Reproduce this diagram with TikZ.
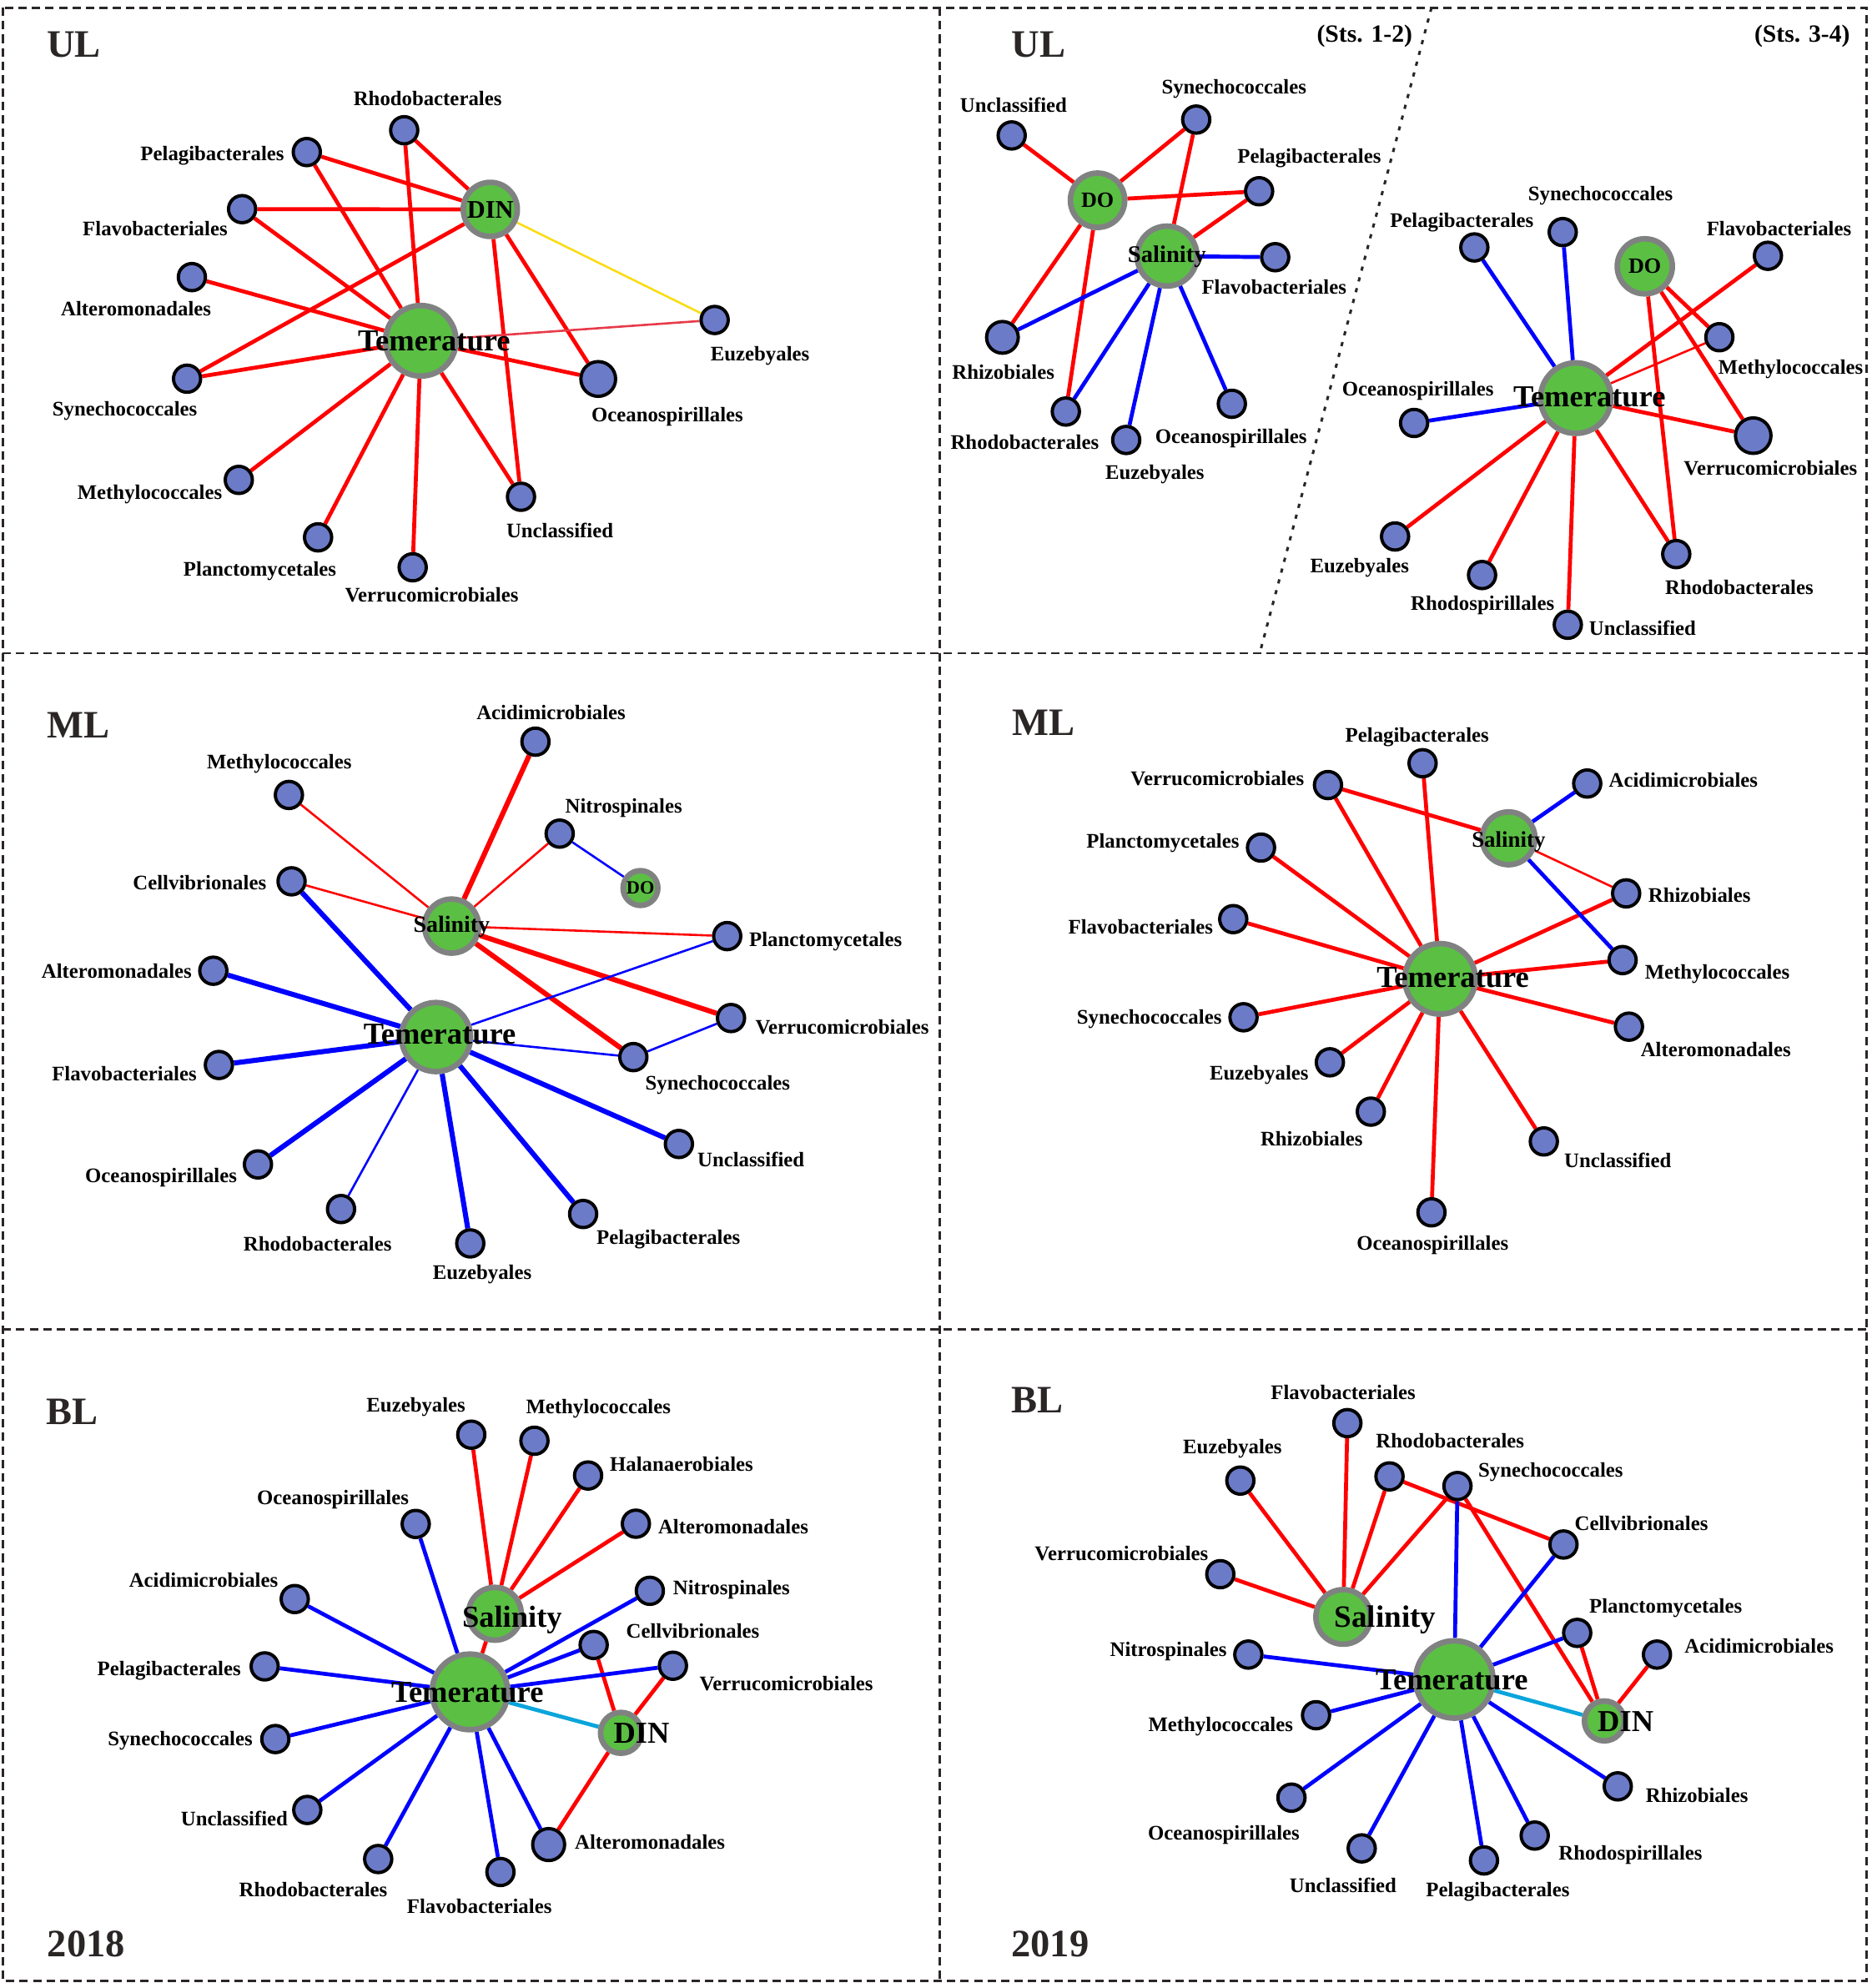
\documentclass[tikz,border=0pt]{standalone}
\usepackage{fontspec}
\setmainfont{Liberation Serif}
\usetikzlibrary{backgrounds}

\definecolor{taxfill}{RGB}{108,123,200}
\definecolor{envfill}{RGB}{91,191,68}
\definecolor{envring}{RGB}{128,130,130}
\definecolor{inkdark}{RGB}{43,38,38}
\definecolor{posred}{RGB}{255,0,0}
\definecolor{negblue}{RGB}{0,0,255}
\definecolor{dincyan}{RGB}{10,165,220}
\definecolor{weakyellow}{RGB}{250,220,20}
\definecolor{weakred}{RGB}{232,58,72}

\tikzset{
  taxon/.style={circle, draw=black, fill=taxfill, line width=2.6pt, minimum size=21.4pt, inner sep=0pt},
  envnode/.style={circle, draw=envring, fill=envfill, line width=4.4pt, minimum size=#1, inner sep=0pt},
  tlabel/.style={font=\bfseries\fontsize{16.3}{18}\selectfont, inner sep=0pt, text height=10.8pt, text depth=0pt},
  envtext/.style={font=\bfseries\fontsize{#1}{#1}\selectfont, inner sep=0pt, text height={0.66*#1pt}, text depth=0pt},
  paneltitle/.style={font=\bfseries\fontsize{30.6}{31}\selectfont, text=inkdark, inner sep=0pt, text height=20.2pt, text depth=0pt},
  posedge/.style={draw=posred, line width=3.1pt},
  negedge/.style={draw=negblue, line width=3.1pt},
  weak/.style={line width=1.7pt},
  heavyedge/.style={line width=4pt},
  panelframe/.style={draw=inkdark, line width=1.75pt, dash pattern=on 6.6pt off 4pt},
}

\begin{document}
\begin{tikzpicture}[x=1pt, y=-1pt]
  \useasboundingbox (0,0) rectangle (1476,1567.5);

  % frame
  \draw[panelframe] (2.2,6.1) rectangle (1471.8,1561.7);
  \draw[panelframe] (741,6.1) -- (741,1561.7);
  \draw[panelframe] (2.2,515) -- (1471.8,515);
  \draw[panelframe] (2.2,1048) -- (1471.8,1048);
  \draw[draw=inkdark, line width=2pt, dash pattern=on 3.3pt off 5.5pt] (1128.7,6.1) -- (993.3,515);

  % titles
  \node[paneltitle] (ttlA) at (58.1,35.1) {UL};
  \node[paneltitle] (ttlB) at (819,35) {UL};
  \node[paneltitle] (ttlC) at (62,572) {ML};
  \node[paneltitle] (ttlD) at (823,570) {ML};
  \node[paneltitle] (ttlE) at (57,1113) {BL};
  \node[paneltitle] (ttlF) at (818,1104) {BL};
  \node[paneltitle] (yrA) at (68,1533) {2018};
  \node[paneltitle] (yrB) at (828,1533) {2019};
  \node[envtext=19.5] (stsA) at (1076,27) {(Sts. 1-2)};
  \node[envtext=19.5] (stsB) at (1421,27) {(Sts. 3-4)};

  % UL 2018
  \node[envnode=55.6pt] (aTem) at (331.8,268.7) {};
  \node[envnode=42.6pt] (aDIN) at (386.6,165.1) {};
  \node[envtext=24] (aTem-t) at (342.3,268.7) {Temerature};
  \node[envtext=20] (aDIN-t) at (386.6,165.1) {DIN};
  \foreach \nm/\x/\y/\lx/\ly/\txt in {
    aRhodo/318.7/102.7/337.2/77.5/Rhodobacterales,
    aPelagi/241.9/119.9/167.4/120.9/Pelagibacterales,
    aFlavo/190.9/164.9/122.3/180.2/Flavobacteriales,
    aAltero/151.3/218.5/107.3/243.4/Alteromonadales,
    aSynecho/147.5/298.6/98.4/322.8/Synechococcales,
    aMethylo/188.3/378.4/118.1/388.3/Methylococcales,
    aPlancto/250.8/423.7/204.9/448.6/Planctomycetales,
    aVerruco/325.4/447.3/340.4/469.5/Verrucomicrobiales,
    aUnclass/410.8/391.7/441.4/418.7/Unclassified,
    aEuzeb/563.5/252.3/599.3/279/Euzebyales}
  {
    \node[taxon] (\nm) at (\x,\y) {};
    \node[tlabel] (\nm-l) at (\lx,\ly) {\txt};
  }
  \node[taxon, minimum size=27.4pt] (aOceano) at (471.7,298.8) {};
  \node[tlabel] (aOceano-l) at (526.2,327.2) {Oceanospirillales};

  % UL 2019
  \node[envnode=42.8pt] (bDO) at (865.4,157.9) {};
  \node[envnode=47.2pt] (bSal) at (920.2,201.9) {};
  \node[envtext=17.2] (bDO-t) at (865.4,157.9) {DO};
  \node[envtext=18.8] (bSal-t) at (920.1,200.6) {Salinity};
  \node[envnode=55.6pt] (brTem) at (1242.5,313.9) {};
  \node[envnode=43.4pt] (brDO) at (1296.9,210) {};
  \node[envtext=24] (brTem-t) at (1253.2,313) {Temerature};
  \node[envtext=17.2] (brDO-t) at (1296.9,210) {DO};
  \foreach \nm/\x/\y/\lx/\ly/\txt in {
    bUnclass/797.7/106.8/799.2/82.9/Unclassified,
    bSynecho/943.2/94.3/973/68.6/Synechococcales,
    bPelagi/992.8/150.8/1032.3/123.4/Pelagibacterales,
    bFlavo/1005.5/202.8/1004.6/226.3/Flavobacteriales,
    bRhodob/840.4/324.5/808/349.1/Rhodobacterales,
    bEuzeb/888/346.9/910.6/372.7/Euzebyales,
    bOceano/971.3/318.4/970.7/344.2/Oceanospirillales,
    brPelagi/1162.5/195.1/1152.6/173.6/Pelagibacterales,
    brSynecho/1232.2/183/1262/153/Synechococcales,
    brFlavo/1394/201.7/1402.7/180.2/Flavobacteriales,
    brMethylo/1355.7/265.9/1412/289.4/Methylococcales,
    brOceano/1115/333.5/1118/307/Oceanospirillales,
    brEuzeb/1100/423/1072/446/Euzebyales,
    brRhodosp/1168.6/453.4/1169/475.7/Rhodospirillales,
    brRhodob/1321.7/436.9/1371.4/463/Rhodobacterales,
    brUnclass/1236.2/492.6/1295.1/495.5/Unclassified}
  {
    \node[taxon] (\nm) at (\x,\y) {};
    \node[tlabel] (\nm-l) at (\lx,\ly) {\txt};
  }
  \node[taxon, minimum size=25pt] (bRhizo) at (790.4,266) {};
  \node[tlabel] (bRhizo-l) at (791.1,293.8) {Rhizobiales};
  \node[taxon, minimum size=28pt] (brVerruco) at (1382.4,343.5) {};
  \node[tlabel] (brVerruco-l) at (1396,369.4) {Verrucomicrobiales};

  % ML 2018
  \node[envnode=42.6pt] (cSal) at (356.1,730.2) {};
  \node[envnode=54.4pt] (cTem) at (343.8,817.7) {};
  \node[envnode=27.4pt] (cDO) at (505,700.2) {};
  \node[envtext=18.4] (cSal-t) at (356.1,728.7) {Salinity};
  \node[envtext=24] (cTem-t) at (346.7,815.3) {Temerature};
  \node[envtext=14.7] (cDO-t) at (505,700.2) {DO};
  \foreach \nm/\x/\y/\lx/\ly/\txt in {
    cAcidim/422.2/584.8/434.5/562.2/Acidimicrobiales,
    cMethylo/227.8/626.8/220.2/601/Methylococcales,
    cNitro/441.3/657.3/491.8/635.3/Nitrospinales,
    cCellv/229.9/694.9/157.4/696.4/Cellvibrionales,
    cPlancto/573.4/738.1/651/741/Planctomycetales,
    cAltero/168.2/765.4/92/766/Alteromonadales,
    cVerruco/576.4/802.7/664/810/Verrucomicrobiales,
    cSynecho/499.4/833.5/565.9/854.1/Synechococcales,
    cFlavo/172.6/839.7/98/847/Flavobacteriales,
    cUnclass/535.3/902/592.1/914.6/Unclassified,
    cOceano/203.4/918.1/127/927/Oceanospirillales,
    cRhodob/268.9/953.3/250.4/981.2/Rhodobacterales,
    cPelagi/459.8/957.2/527/976/Pelagibacterales,
    cEuzeb/370.8/980.4/380.2/1003.3/Euzebyales}
  {
    \node[taxon] (\nm) at (\x,\y) {};
    \node[tlabel] (\nm-l) at (\lx,\ly) {\txt};
  }

  % ML 2019
  \node[envnode=41.6pt] (dSal) at (1189.5,661) {};
  \node[envnode=55.6pt] (dTem) at (1135.5,771.8) {};
  \node[envtext=17.7] (dSal-t) at (1189.5,662) {Salinity};
  \node[envtext=24] (dTem-t) at (1145.6,770.7) {Temerature};
  \foreach \nm/\x/\y/\lx/\ly/\txt in {
    dPelagi/1121.7/601.8/1117.4/580/Pelagibacterales,
    dVerruco/1047.1/619/959.9/614/Verrucomicrobiales,
    dAcidim/1251.5/617.8/1327.3/615/Acidimicrobiales,
    dPlancto/994.3/668.3/916.9/663.3/Planctomycetales,
    dRhizoA/1282.2/704.4/1340/706/Rhizobiales,
    dFlavo/972.4/724.7/899.4/731.2/Flavobacteriales,
    dMethylo/1279.4/757/1354/766.3/Methylococcales,
    dSynecho/980.5/802.1/906.2/802.1/Synechococcales,
    dAltero/1284.4/809.5/1352.9/827.7/Alteromonadales,
    dEuzeb/1048.6/837.6/992.8/846.4/Euzebyales,
    dRhizoB/1080.9/876.5/1034.2/897.9/Rhizobiales,
    dUnclass/1217.3/900/1275.6/915.4/Unclassified,
    dOceano/1128.7/955.9/1129.6/980/Oceanospirillales}
  {
    \node[taxon] (\nm) at (\x,\y) {};
    \node[tlabel] (\nm-l) at (\lx,\ly) {\txt};
  }

  % BL 2018
  \node[envnode=41.6pt] (eSal) at (390.2,1272.4) {};
  \node[envnode=59.6pt] (eTem) at (370.5,1334) {};
  \node[envnode=32.2pt] (eDIN) at (489.6,1366.3) {};
  \node[envtext=24] (eSal-t) at (403.8,1274.9) {Salinity};
  \node[envtext=24] (eTem-t) at (368.5,1334.5) {Temerature};
  \node[envtext=24] (eDIN-t) at (505.8,1366.8) {DIN};
  \foreach \nm/\x/\y/\lx/\ly/\txt in {
    eEuzeb/371.6/1131.2/328/1108/Euzebyales,
    eMethylo/421.4/1136/471.8/1109.5/Methylococcales,
    eHalan/463.7/1163.4/537.4/1154.8/Halanaerobiales,
    eOceano/327.8/1201.6/262.5/1181.2/Oceanospirillales,
    eAlteroA/501.4/1201.4/578.2/1203.7/Alteromonadales,
    eAcidim/232.4/1260.8/160.5/1246.2/Acidimicrobiales,
    eNitro/512.4/1254.3/576.8/1252.2/Nitrospinales,
    eCellv/468.1/1297/546.3/1286.2/Cellvibrionales,
    ePelagi/208.7/1313.9/133.3/1316/Pelagibacterales,
    eVerruco/530.6/1313.4/620/1327.8/Verrucomicrobiales,
    eSynecho/217.1/1371.2/142.1/1371.2/Synechococcales,
    eUnclass/242.3/1427.1/184.8/1434.1/Unclassified,
    eRhodob/298.2/1465.8/247/1490/Rhodobacterales,
    eFlavo/394.6/1476/378/1503/Flavobacteriales}
  {
    \node[taxon] (\nm) at (\x,\y) {};
    \node[tlabel] (\nm-l) at (\lx,\ly) {\txt};
  }
  \node[taxon, minimum size=25.2pt] (eAlteroB) at (432.6,1454.4) {};
  \node[tlabel] (eAlteroB-l) at (512.5,1452.3) {Alteromonadales};

  % BL 2019
  \node[envnode=43pt] (fSal) at (1059.1,1274.9) {};
  \node[envnode=61pt] (fTem) at (1146.7,1324.2) {};
  \node[envnode=31.4pt] (fDIN) at (1265,1356.9) {};
  \node[envtext=24.4] (fSal-t) at (1092.3,1274.9) {Salinity};
  \node[envtext=24] (fTem-t) at (1144.7,1324.7) {Temerature};
  \node[envtext=24] (fDIN-t) at (1281.8,1357.4) {DIN};
  \foreach \nm/\x/\y/\lx/\ly/\txt in {
    fFlavo/1062.4/1122.1/1059.1/1098.2/Flavobacteriales,
    fEuzeb/978/1167.4/971.8/1141/Euzebyales,
    fRhodob/1095.6/1164.1/1143.4/1136.4/Rhodobacterales,
    fSynecho/1149.2/1171.7/1222.7/1159.4/Synechococcales,
    fCellv/1232.8/1217.8/1294.2/1201.4/Cellvibrionales,
    fVerruco/962.2/1241.2/884.3/1224.8/Verrucomicrobiales,
    fPlancto/1243.6/1287.5/1313.4/1266.1/Planctomycetales,
    fAcidim/1306.5/1304.6/1387/1298/Acidimicrobiales,
    fNitro/984.3/1304.6/921.3/1300.8/Nitrospinales,
    fMethylo/1037.7/1352.4/962.5/1360/Methylococcales,
    fRhizo/1275.6/1408.5/1338/1416/Rhizobiales,
    fOceano/1018.3/1417.4/964.9/1445.5/Oceanospirillales,
    fRhodosp/1210.1/1447.3/1285.6/1461.2/Rhodospirillales,
    fUnclass/1073.7/1457.4/1059/1487/Unclassified,
    fPelagi/1170.1/1466.9/1181/1490/Pelagibacterales}
  {
    \node[taxon] (\nm) at (\x,\y) {};
    \node[tlabel] (\nm-l) at (\lx,\ly) {\txt};
  }

  % correlations, under the nodes
  \begin{scope}[on background layer]
    \foreach \u/\v in {aRhodo/aDIN, aRhodo/aTem, aPelagi/aDIN, aPelagi/aTem, aFlavo/aDIN, aFlavo/aTem,
      aAltero/aTem, aSynecho/aDIN, aSynecho/aTem, aMethylo/aTem, aPlancto/aTem, aVerruco/aTem,
      aUnclass/aTem, aUnclass/aDIN, aOceano/aTem, aOceano/aDIN,
      bUnclass/bDO, bSynecho/bDO, bSynecho/bSal, bPelagi/bDO, bPelagi/bSal, bRhizo/bDO, bRhodob/bDO,
      brFlavo/brTem, brVerruco/brTem, brEuzeb/brTem, brRhodosp/brTem, brRhodob/brTem, brUnclass/brTem,
      brDO/brMethylo, brDO/brVerruco, brDO/brRhodob,
      dPelagi/dTem, dVerruco/dTem, dVerruco/dSal, dPlancto/dTem, dRhizoA/dTem, dFlavo/dTem, dMethylo/dTem,
      dSynecho/dTem, dAltero/dTem, dEuzeb/dTem, dRhizoB/dTem, dUnclass/dTem, dOceano/dTem,
      eEuzeb/eSal, eMethylo/eSal, eHalan/eSal, eAlteroA/eSal, eSal/eTem, eCellv/eDIN, eVerruco/eDIN, eAlteroB/eDIN,
      fFlavo/fSal, fEuzeb/fSal, fRhodob/fSal, fRhodob/fCellv, fSynecho/fSal, fSynecho/fDIN, fVerruco/fSal,
      fPlancto/fDIN, fAcidim/fDIN}
      \draw[posedge] (\u) -- (\v);
    \foreach \u/\v in {bFlavo/bSal, bRhizo/bSal, bRhodob/bSal, bEuzeb/bSal, bOceano/bSal,
      brPelagi/brTem, brSynecho/brTem, brOceano/brTem,
      dAcidim/dSal, dSal/dMethylo,
      eOceano/eTem, eAcidim/eTem, eNitro/eTem, eCellv/eTem, ePelagi/eTem, eVerruco/eTem, eSynecho/eTem,
      eUnclass/eTem, eRhodob/eTem, eFlavo/eTem, eAlteroB/eTem,
      fSynecho/fTem, fCellv/fTem, fPlancto/fTem, fNitro/fTem, fMethylo/fTem, fRhizo/fTem, fOceano/fTem,
      fRhodosp/fTem, fUnclass/fTem, fPelagi/fTem}
      \draw[negedge] (\u) -- (\v);
    % ML 2018 has heavier and lighter links
    \foreach \u/\v in {cAcidim/cSal, cSal/cVerruco, cSal/cSynecho}
      \draw[posedge, heavyedge] (\u) -- (\v);
    \foreach \u/\v in {cMethylo/cSal, cNitro/cSal, cCellv/cSal, cSal/cPlancto, dSal/dRhizoA, brMethylo/brTem}
      \draw[posedge, weak] (\u) -- (\v);
    \foreach \u/\v in {cCellv/cTem, cAltero/cTem, cFlavo/cTem, cUnclass/cTem, cOceano/cTem, cPelagi/cTem, cEuzeb/cTem}
      \draw[negedge, heavyedge] (\u) -- (\v);
    \foreach \u/\v in {cNitro/cDO, cPlancto/cTem, cSynecho/cTem, cSynecho/cVerruco, cRhodob/cTem}
      \draw[negedge, weak] (\u) -- (\v);
    \draw[weak, draw=weakyellow] (aEuzeb) -- (aDIN);
    \draw[weak, draw=weakred] (aEuzeb) -- (aTem);
    \draw[draw=dincyan, line width=3.1pt] (eTem) -- (eDIN);
    \draw[draw=dincyan, line width=3.1pt] (fTem) -- (fDIN);
  \end{scope}
\end{tikzpicture}
\end{document}
